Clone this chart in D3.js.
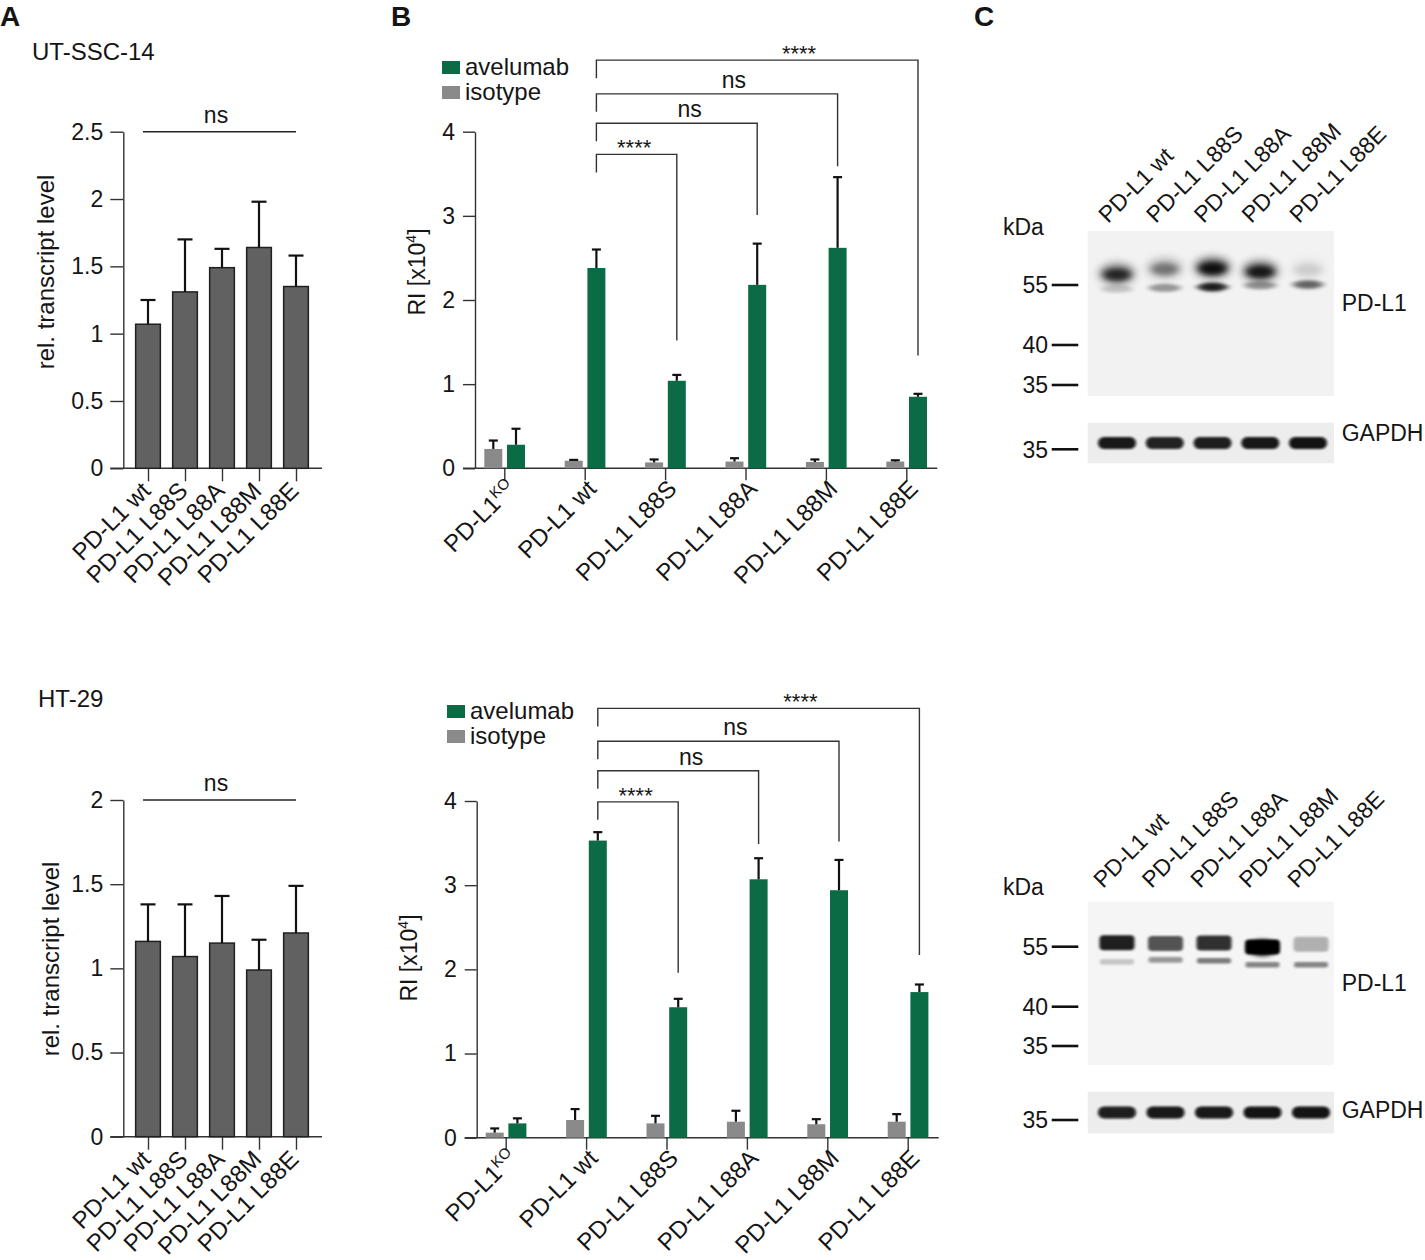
<!DOCTYPE html>
<html><head><meta charset="utf-8">
<script src="https://cdn.jsdelivr.net/npm/d3@7"></script>
<style>
body{margin:0;background:#fff}
text{font-family:"Liberation Sans",Arial,Helvetica,sans-serif;fill:#151515}
</style>
</head><body>
<svg id="fig" width="1425" height="1260" xmlns="http://www.w3.org/2000/svg"></svg>
<script>
// ---------------- DATA ----------------
const catsA = ["PD-L1 wt","PD-L1 L88S","PD-L1 L88A","PD-L1 L88M","PD-L1 L88E"];
const catsB = ["PD-L1KO","PD-L1 wt","PD-L1 L88S","PD-L1 L88A","PD-L1 L88M","PD-L1 L88E"];

// Panel A: relative transcript level (mean, SD)
const utMean = [1.07, 1.31, 1.49, 1.64, 1.35];
const utSd   = [0.18, 0.39, 0.14, 0.34, 0.23];
const htMean = [1.16, 1.07, 1.15, 0.99, 1.21];
const htSd   = [0.22, 0.31, 0.28, 0.18, 0.28];
const utTicks = [0, 0.5, 1, 1.5, 2, 2.5];
const htTicks = [0, 0.5, 1, 1.5, 2];

// Panel B: RI [x10^4] (mean, SD)
const utIso   = [0.23, 0.09, 0.07, 0.08, 0.075, 0.08];
const utIsoSd = [0.10, 0.01, 0.035, 0.04, 0.03, 0.015];
const utAve   = [0.28, 2.38, 1.04, 2.18, 2.62, 0.85];
const utAveSd = [0.19, 0.22, 0.07, 0.49, 0.84, 0.035];
const htIso   = [0.06, 0.21, 0.17, 0.19, 0.16, 0.19];
const htIsoSd = [0.05, 0.13, 0.09, 0.13, 0.06, 0.09];
const htAve   = [0.17, 3.53, 1.55, 3.07, 2.94, 1.73];
const htAveSd = [0.06, 0.10, 0.10, 0.25, 0.36, 0.09];
const bTicks  = [0, 1, 2, 3, 4];

// significance brackets (wt vs. target)
const sigTarget = [2, 3, 4, 5];
const sigLabel  = ["****", "ns", "ns", "****"];
const sigTextAt = [0.47, 0.58, 0.57, 0.63];
const utSigLevel = [3.73, 4.10, 4.45, 4.85];
const utSigEnd   = [1.52, 3.01, 3.59, 1.34];
const htSigLevel = [3.99, 4.36, 4.71, 5.10];
const htSigEnd   = [1.96, 3.49, 3.52, 2.17];

// Panel C: western blots (band intensity 0..1, apparent size kDa)
const markers = [55, 40, 35];
const utUpperKda = [57.8, 59.2, 59.4, 58.5, 59.0];
const utUpperInt = [0.82, 0.42, 1.00, 0.93, 0.10];
const utLowerKda = [54.0, 54.3, 54.5, 54.9, 55.1];
const utLowerInt = [0.22, 0.50, 0.95, 0.50, 0.62];
const utGapdh    = [0.95, 0.90, 0.92, 0.95, 0.97];
const htUpperKda = [56.0, 55.8, 55.9, 54.9, 55.6];
const htUpperInt = [0.87, 0.66, 0.80, 1.00, 0.28];
const htLowerKda = [51.2, 51.7, 51.5, 50.5, 50.5];
const htLowerInt = [0.20, 0.40, 0.52, 0.48, 0.48];
const htGapdh    = [0.92, 0.95, 0.95, 0.97, 0.97];

// ---------------- DRAWING ----------------
const svg = d3.select("#fig");
const FS = 23, XFS = 24;
const GREEN = "#0b6b45", GRAY = "#8a8a8a", BARGRAY = "#616161";

const defs = svg.append("defs");
function blurFilter(id, sd){
  defs.append("filter").attr("id",id).attr("x","-80%").attr("y","-150%").attr("width","260%").attr("height","400%")
    .append("feGaussianBlur").attr("stdDeviation",sd);
}
blurFilter("blurWide","4 4");
blurFilter("blurCore","3 2.4");
blurFilter("blurThin","3 1.6");
blurFilter("blurRect","1.6 1.3");
blurFilter("blurG","1.6 1.3");

function letter(t, x, y){
  svg.append("text").attr("x",x).attr("y",y).attr("font-size",28).attr("font-weight","bold").text(t);
}
letter("A", 0, 26); letter("B", 391, 26); letter("C", 974, 26);

function styleAxis(g, fs){
  g.selectAll("path,line").attr("stroke","#333").attr("stroke-width",1.4);
  g.selectAll("text").attr("font-size",fs).attr("fill","#151515")
   .attr("font-family",'"Liberation Sans",Arial,sans-serif');
}

function panelA(o){
  const y = d3.scaleLinear().domain([0, o.yMax]).range([o.bottom, o.top]);
  const x = d3.scalePoint().domain(catsA).range([148, 296]);
  const bw = 24.7, axisX = 123.3;
  const g = svg.append("g");
  svg.append("text").attr("x", o.titleX).attr("y", o.titleY).attr("font-size", 24).text(o.title);

  const ya = g.append("g").attr("transform",`translate(${axisX},0)`)
    .call(d3.axisLeft(y).tickValues(o.ticks).tickSize(13).tickSizeOuter(0).tickPadding(7).tickFormat(d=>String(d)));
  styleAxis(ya, FS);
  const xa = g.append("g").attr("transform",`translate(0,${o.bottom})`)
    .call(d3.axisBottom(x).tickSize(13).tickSizeOuter(0).tickFormat(""));
  xa.select(".domain").remove();
  styleAxis(xa, FS);
  g.append("line").attr("x1", axisX-13).attr("x2", 322).attr("y1", o.bottom).attr("y2", o.bottom)
    .attr("stroke","#333").attr("stroke-width",1.4);

  // bars
  g.selectAll("rect.bar").data(catsA).join("rect").attr("class","bar")
    .attr("x", c => x(c)-bw/2).attr("width", bw)
    .attr("y", (c,i) => y(o.mean[i])).attr("height", (c,i) => o.bottom - y(o.mean[i]))
    .attr("fill", BARGRAY).attr("stroke","#202020").attr("stroke-width",1.5);
  // error bars
  catsA.forEach((c,i)=>{
    const yt = y(o.mean[i]+o.sd[i]);
    g.append("line").attr("x1",x(c)).attr("x2",x(c)).attr("y1",y(o.mean[i])).attr("y2",yt)
      .attr("stroke","#111").attr("stroke-width",2.2);
    g.append("line").attr("x1",x(c)-7.5).attr("x2",x(c)+7.5).attr("y1",yt).attr("y2",yt)
      .attr("stroke","#111").attr("stroke-width",2.2);
  });
  // x labels
  catsA.forEach(c=>{
    g.append("text").attr("font-size",XFS).attr("text-anchor","end")
      .attr("transform",`translate(${x(c)+4},${o.bottom+24}) rotate(-45)`).text(c);
  });
  // y label
  g.append("text").attr("font-size",24).attr("text-anchor","middle")
    .attr("transform",`translate(${o.ylabX},${o.ylabY}) rotate(-90)`).text("rel. transcript level");
  // ns line
  const ly = y(o.yMax);
  g.append("line").attr("x1",x(catsA[0])-5).attr("x2",x(catsA[4])).attr("y1",ly).attr("y2",ly)
    .attr("stroke","#222").attr("stroke-width",1.5);
  g.append("text").attr("x",(x(catsA[0])+x(catsA[4]))/2-6).attr("y",ly-9)
    .attr("font-size",FS).attr("text-anchor","middle").text("ns");
}

panelA({yMax:2.5, ticks:utTicks, top:131.7, bottom:468.3, mean:utMean, sd:utSd,
        title:"UT-SSC-14", titleX:32, titleY:60, ylabX:54, ylabY:272});
panelA({yMax:2, ticks:htTicks, top:800, bottom:1136.7, mean:htMean, sd:htSd,
        title:"HT-29", titleX:38, titleY:707, ylabX:59, ylabY:959});

function panelB(o){
  const y = d3.scaleLinear().domain([0,4]).range([o.bottom, o.top]);
  const x = d3.scalePoint().domain(catsB).range([o.x0, o.x0 + 5*80.4]);
  const g = svg.append("g");
  const ya = g.append("g").attr("transform",`translate(${o.axisX},0)`)
    .call(d3.axisLeft(y).tickValues(bTicks).tickSize(12).tickSizeOuter(0).tickPadding(8).tickFormat(d=>String(d)));
  styleAxis(ya, FS);
  const xa = g.append("g").attr("transform",`translate(0,${o.bottom})`)
    .call(d3.axisBottom(x).tickSize(12).tickSizeOuter(0).tickFormat(""));
  xa.select(".domain").remove();
  styleAxis(xa, FS);
  g.append("line").attr("x1",o.axisX-12).attr("x2",o.x0+5*80.4+31).attr("y1",o.bottom).attr("y2",o.bottom)
    .attr("stroke","#333").attr("stroke-width",1.4);

  const bw = 18;
  const series = [
    {vals:o.iso, sd:o.isoSd, off:-11, col:GRAY},
    {vals:o.ave, sd:o.aveSd, off:11.7, col:GREEN}
  ];
  series.forEach(s=>{
    g.selectAll(null).data(catsB).join("rect")
      .attr("x", c => x(c)+s.off-bw/2).attr("width", bw)
      .attr("y", (c,i)=>y(s.vals[i])).attr("height",(c,i)=>o.bottom-y(s.vals[i]))
      .attr("fill", s.col);
    catsB.forEach((c,i)=>{
      const cx = x(c)+s.off, yt = y(s.vals[i]+s.sd[i]);
      g.append("line").attr("x1",cx).attr("x2",cx).attr("y1",y(s.vals[i])).attr("y2",yt)
        .attr("stroke","#111").attr("stroke-width",2.2);
      g.append("line").attr("x1",cx-4.5).attr("x2",cx+4.5).attr("y1",yt).attr("y2",yt)
        .attr("stroke","#111").attr("stroke-width",2.2);
    });
  });

  // x labels
  catsB.forEach((c,i)=>{
    const t = g.append("text").attr("font-size",XFS).attr("text-anchor","end")
      .attr("transform",`translate(${x(c)+13},${o.bottom+22}) rotate(-45)`);
    if (c === "PD-L1KO"){
      t.append("tspan").text("PD-L1");
      t.append("tspan").attr("font-size",15).attr("dy",-9).text("KO");
      t.append("tspan").attr("font-size",15).attr("dy",9).text("\u200B");
    } else t.text(c);
  });
  // y label
  const yl = g.append("text").attr("font-size",FS).attr("text-anchor","middle")
    .attr("transform",`translate(${o.ylabX},${o.ylabY}) rotate(-90)`);
  yl.append("tspan").text("RI [x10");
  yl.append("tspan").attr("font-size",14).attr("dy",-9).text("4");
  yl.append("tspan").attr("dy",9).text("]");

  // brackets
  const lx = x(catsB[1]) + 11.7;
  sigTarget.forEach((ti,k)=>{
    const rx = x(catsB[ti]) + 11.7, yl0 = y(o.level[k]);
    g.append("path").attr("d",`M${lx},${yl0+18}V${yl0}H${rx}V${y(o.end[k])}`)
      .attr("fill","none").attr("stroke","#333").attr("stroke-width",1.4);
    const tx = lx + (rx-lx)*sigTextAt[k];
    const isStar = sigLabel[k] !== "ns";
    g.append("text").attr("x",tx).attr("y", isStar ? yl0+1 : yl0-6)
      .attr("font-size", isStar ? 22 : FS).attr("text-anchor","middle").text(sigLabel[k]);
  });

  // legend
  const leg = [{n:"avelumab",c:GREEN},{n:"isotype",c:GRAY}];
  leg.forEach((d,i)=>{
    g.append("rect").attr("x",o.legX).attr("y",o.legY+i*25).attr("width",18).attr("height",13).attr("fill",d.c);
    g.append("text").attr("x",o.legX+23).attr("y",o.legY+14+i*25).attr("font-size",24).text(d.n);
  });
}

panelB({top:131.7, bottom:468.3, axisX:475, x0:504.3, iso:utIso, isoSd:utIsoSd, ave:utAve, aveSd:utAveSd,
        level:utSigLevel, end:utSigEnd, ylabX:425, ylabY:272, legX:442, legY:61});
panelB({top:801, bottom:1137.7, axisX:476.7, x0:505.7, iso:htIso, isoSd:htIsoSd, ave:htAve, aveSd:htAveSd,
        level:htSigLevel, end:htSigEnd, ylabX:417, ylabY:958, legX:447, legY:705});

function blot(o){
  const g = svg.append("g");
  const lanes = d3.scalePoint().domain(catsA).range(o.laneRange);
  const k = d3.scaleLinear().domain(markers).range(o.markerY);
  // backgrounds
  g.append("rect").attr("x",1087.7).attr("y",o.top).attr("width",246.3).attr("height",o.bot-o.top).attr("fill",o.bg);
  g.append("rect").attr("x",1087.7).attr("y",o.gTop).attr("width",246.3).attr("height",o.gBot-o.gTop).attr("fill","#ededed");
  // markers
  markers.forEach((m,i)=>{
    const yy = k(m);
    g.append("line").attr("x1",1051.7).attr("x2",1078.3).attr("y1",yy).attr("y2",yy).attr("stroke","#111").attr("stroke-width",2.6);
    g.append("text").attr("x",1048).attr("y",yy).attr("dy","0.36em").attr("text-anchor","end").attr("font-size",FS).text(m);
  });
  g.append("line").attr("x1",1051.7).attr("x2",1078.3).attr("y1",o.gMarker).attr("y2",o.gMarker).attr("stroke","#111").attr("stroke-width",2.6);
  g.append("text").attr("x",1048).attr("y",o.gMarker).attr("dy","0.36em").attr("text-anchor","end").attr("font-size",FS).text("35");
  g.append("text").attr("x",1003).attr("y",o.kdaY).attr("font-size",FS).text("kDa");
  g.append("text").attr("x",1341.7).attr("y",o.pdY).attr("dy","0.36em").attr("font-size",FS).text("PD-L1");
  g.append("text").attr("x",1341.7).attr("y",o.gLabY).attr("dy","0.36em").attr("font-size",FS).text("GAPDH");

  // PD-L1 bands
  catsA.forEach((c,i)=>{
    const cx = lanes(c);
    const up = k(o.upK[i]), lo = k(o.loK[i]);
    const iu = o.upI[i], il = o.loI[i];
    if (o.diffuse){
      g.append("ellipse").attr("cx",cx).attr("cy",up).attr("rx",18).attr("ry",10)
        .attr("fill","#000").attr("opacity",iu*0.62).attr("filter","url(#blurWide)");
      g.append("ellipse").attr("cx",cx).attr("cy",up+1).attr("rx",13).attr("ry",6)
        .attr("fill","#000").attr("opacity",iu*0.85).attr("filter","url(#blurCore)");
      g.append("ellipse").attr("cx",cx).attr("cy",lo).attr("rx",16).attr("ry",4)
        .attr("fill","#000").attr("opacity",il*0.75).attr("filter","url(#blurThin)");
      if (il > 0.55)
        g.append("ellipse").attr("cx",cx).attr("cy",lo).attr("rx",11).attr("ry",3.2)
          .attr("fill","#000").attr("opacity",(il-0.4)*1.4).attr("filter","url(#blurCore)");
    } else {
      g.append("rect").attr("x",cx-17.5).attr("y",up-7.5).attr("width",35).attr("height",15).attr("rx",4)
        .attr("fill","#000").attr("opacity",Math.min(1,iu*1.0)).attr("filter","url(#blurRect)");
      if (iu > 0.9)
        g.append("ellipse").attr("cx",cx).attr("cy",up+1).attr("rx",13).attr("ry",8)
          .attr("fill","#000").attr("opacity",0.95).attr("filter","url(#blurCore)");
      g.append("rect").attr("x",cx-17).attr("y",lo-2.8).attr("width",34).attr("height",5.6).attr("rx",2)
        .attr("fill","#000").attr("opacity",il*0.95).attr("filter","url(#blurRect)");
    }
    // GAPDH
    g.append("rect").attr("x",cx-19).attr("y",o.gY-6).attr("width",38).attr("height",12).attr("rx",6)
      .attr("fill","#080808").attr("opacity",o.gI[i]).attr("filter","url(#blurG)");
    // lane label
    g.append("text").attr("font-size",FS).attr("text-anchor","start")
      .attr("transform",`translate(${cx+o.labOff},${o.labY}) rotate(-45)`).text(c);
  });
}

blot({top:231, bot:396, gTop:422.7, gBot:463.3, bg:"#f2f2f2", markerY:[285,345,385], gMarker:449.3, gY:443,
      laneRange:[1117,1308], upK:utUpperKda, upI:utUpperInt, loK:utLowerKda, loI:utLowerInt, gI:utGapdh,
      kdaY:235, pdY:303, gLabY:433, labY:224, labOff:-9, diffuse:true});
blot({top:901.7, bot:1065, gTop:1091.7, gBot:1133.3, bg:"#f5f5f5", markerY:[946.7,1006.7,1046], gMarker:1120, gY:1112.5,
      laneRange:[1117,1311], upK:htUpperKda, upI:htUpperInt, loK:htLowerKda, loI:htLowerInt, gI:htGapdh,
      kdaY:895, pdY:983, gLabY:1110, labY:889, labOff:-14, diffuse:false});
</script>
</body></html>
